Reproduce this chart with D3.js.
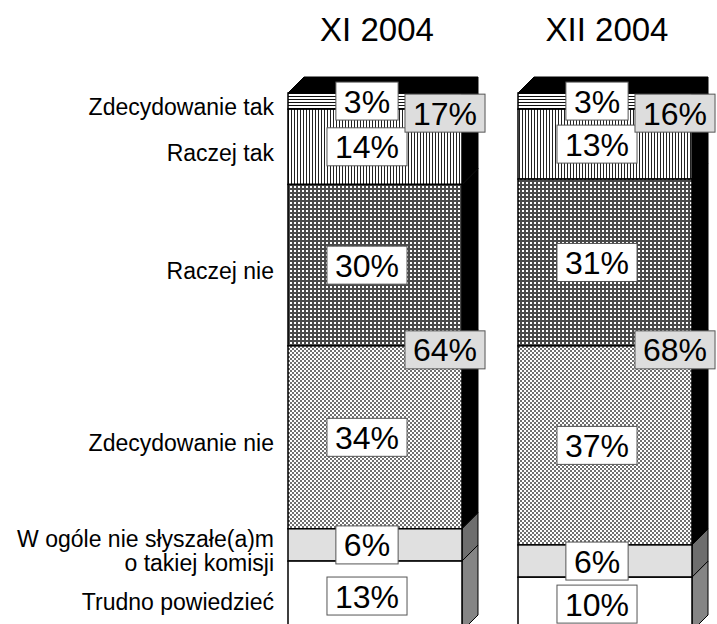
<!DOCTYPE html>
<html>
<head>
<meta charset="utf-8">
<script src="https://cdn.jsdelivr.net/npm/d3@7"></script>
<style>
  body { margin: 0; background: #fff; }
  svg { display: block; font-family: "Liberation Sans", Arial, sans-serif; }
</style>
</head>
<body>
<div id="chartwrapper"><svg id="chart"></svg></div>
<script>

// survey data, shares in %
var periods = ["XI 2004", "XII 2004"];
var answers = [
  ["Zdecydowanie tak"],
  ["Raczej tak"],
  ["Raczej nie"],
  ["Zdecydowanie nie"],
  ["W ogóle nie słyszałe(a)m", "o takiej komisji"],
  ["Trudno powiedzieć"]
];
var valuesXI = [3, 14, 30, 34, 6, 13];
var valuesXII = [3, 13, 31, 37, 6, 10];
var sumTak = [17, 16];   // zdecydowanie + raczej tak
var sumNie = [64, 68];   // raczej + zdecydowanie nie

renderChart();

function renderChart() {

var width = 717, height = 624;
var depth = 16;

var svg = d3.select("#chart")
  .attr("width", width)
  .attr("height", height);

var defs = svg.append("defs");

// fill patterns for the front faces
function pattern(id, w, h) {
  var p = defs.append("pattern")
    .attr("id", id)
    .attr("patternUnits", "userSpaceOnUse")
    .attr("width", w)
    .attr("height", h);
  p.append("rect").attr("width", w).attr("height", h).attr("fill", "#fff");
  return p;
}

var p0 = pattern("hlines", 4, 3);
p0.append("rect").attr("width", 4).attr("height", 1).attr("fill", "#111");

var p1 = pattern("vlines", 3, 4);
p1.append("rect").attr("width", 1).attr("height", 4).attr("fill", "#222");

var p2 = pattern("grid", 4, 4);
p2.append("rect").attr("width", 4).attr("height", 2).attr("fill", "#4a4a4a");
p2.append("rect").attr("width", 2).attr("height", 4).attr("fill", "#4a4a4a");

var p3 = pattern("checker", 4, 4);
p3.append("rect").attr("width", 2).attr("height", 2).attr("fill", "#707070");
p3.append("rect").attr("x", 2).attr("y", 2).attr("width", 2).attr("height", 2).attr("fill", "#707070");

var frontFill = ["url(#hlines)", "url(#vlines)", "url(#grid)", "url(#checker)", "#e0e0e0", "#fff"];
var sideFill = ["#000", "#000", "#000", "#000", "#6e6e6e", "#858585"];

var xScale = d3.scaleBand()
  .domain(periods)
  .range([288, 692])
  .paddingInner(0.2435);

var yScale = d3.scaleLinear()
  .domain([0, 100])
  .range([93, 631]);

var bw = xScale.bandwidth();

var allValues = [valuesXI, valuesXII];

// stacked segments, top to bottom
var bars = periods.map(function(p, j) {
  var cum = 0;
  var segs = allValues[j].map(function(v, i) {
    var s = {i: i, value: v, start: cum, end: cum + v};
    cum += v;
    return s;
  });
  return {period: p, j: j, segs: segs};
});

var barG = svg.selectAll("g.bar")
  .data(bars)
  .enter()
  .append("g")
  .attr("class", "bar");

// side faces
barG.each(function(b) {
  var g = d3.select(this);
  var x1 = xScale(b.period) + bw;
  g.selectAll("polygon.side")
    .data(b.segs)
    .enter()
    .append("polygon")
    .attr("class", "side")
    .attr("points", function(d) {
      var y0 = yScale(d.start), y1 = yScale(d.end);
      return [[x1, y0], [x1 + depth, y0 - depth], [x1 + depth, y1 - depth], [x1, y1]].join(" ");
    })
    .attr("fill", function(d) { return sideFill[d.i]; })
    .attr("stroke", "#000")
    .attr("stroke-width", 1);

  // top face
  var x0 = xScale(b.period), yt = yScale(0);
  g.append("polygon")
    .attr("points", [[x0, yt], [x0 + depth, yt - depth], [x1 + depth, yt - depth], [x1, yt]].join(" "))
    .attr("fill", "#000")
    .attr("stroke", "#000");

  // front faces
  g.selectAll("rect.front")
    .data(b.segs)
    .enter()
    .append("rect")
    .attr("class", "front")
    .attr("x", x0)
    .attr("y", function(d) { return yScale(d.start); })
    .attr("width", bw)
    .attr("height", function(d) { return yScale(d.end) - yScale(d.start); })
    .attr("fill", function(d) { return frontFill[d.i]; })
    .attr("stroke", "#000")
    .attr("stroke-width", 1.5);
});

// boxed label helper
function boxLabel(parent, cx, cy, txt, fill) {
  var g = parent.append("g").attr("transform", "translate(" + cx + "," + cy + ")");
  var t = g.append("text")
    .attr("text-anchor", "middle")
    .attr("dy", "0.36em")
    .style("font-size", "32px")
    .text(txt);
  var w = t.node().getComputedTextLength() + 16;
  g.insert("rect", "text")
    .attr("x", -w / 2)
    .attr("y", -19)
    .attr("width", w)
    .attr("height", 38)
    .attr("fill", fill)
    .attr("stroke", "#555")
    .attr("stroke-width", 1);
}

// segment values
barG.each(function(b) {
  var g = d3.select(this);
  var cx = xScale(b.period) + bw / 2 - 8;
  b.segs.forEach(function(d) {
    boxLabel(g, cx, yScale((d.start + d.end) / 2), d.value + "%", "#fff");
  });
});

// totals for "tak" and "nie"
barG.each(function(b) {
  var g = d3.select(this);
  var cx = xScale(b.period) + bw - 17;
  var tak = b.segs[0].end, nie = b.segs[2].end;
  boxLabel(g, cx, yScale(tak) + 4, sumTak[b.j] + "%", "#ddd");
  boxLabel(g, cx, yScale(nie) + 4, sumNie[b.j] + "%", "#ddd");
});

// column titles
svg.selectAll("text.title")
  .data(periods)
  .enter()
  .append("text")
  .attr("class", "title")
  .attr("x", function(d) { return xScale(d) + bw / 2 + 2; })
  .attr("y", 41)
  .attr("text-anchor", "middle")
  .style("font-size", "33px")
  .text(function(d) { return d; });

// answer labels on the left, next to the first bar
var first = bars[0].segs;
var lab = svg.selectAll("text.answer")
  .data(answers)
  .enter()
  .append("text")
  .attr("class", "answer")
  .attr("x", 274)
  .attr("y", function(d, i) {
    var mid = yScale((first[i].start + first[i].end) / 2) + 6;
    return mid - (d.length - 1) * 12;
  })
  .attr("text-anchor", "end")
  .style("font-size", "23px");

lab.selectAll("tspan")
  .data(function(d) { return d; })
  .enter()
  .append("tspan")
  .attr("x", 274)
  .attr("dy", function(d, k) { return k == 0 ? "0.35em" : "24px"; })
  .text(function(d) { return d; });

}
</script>
</body>
</html>
